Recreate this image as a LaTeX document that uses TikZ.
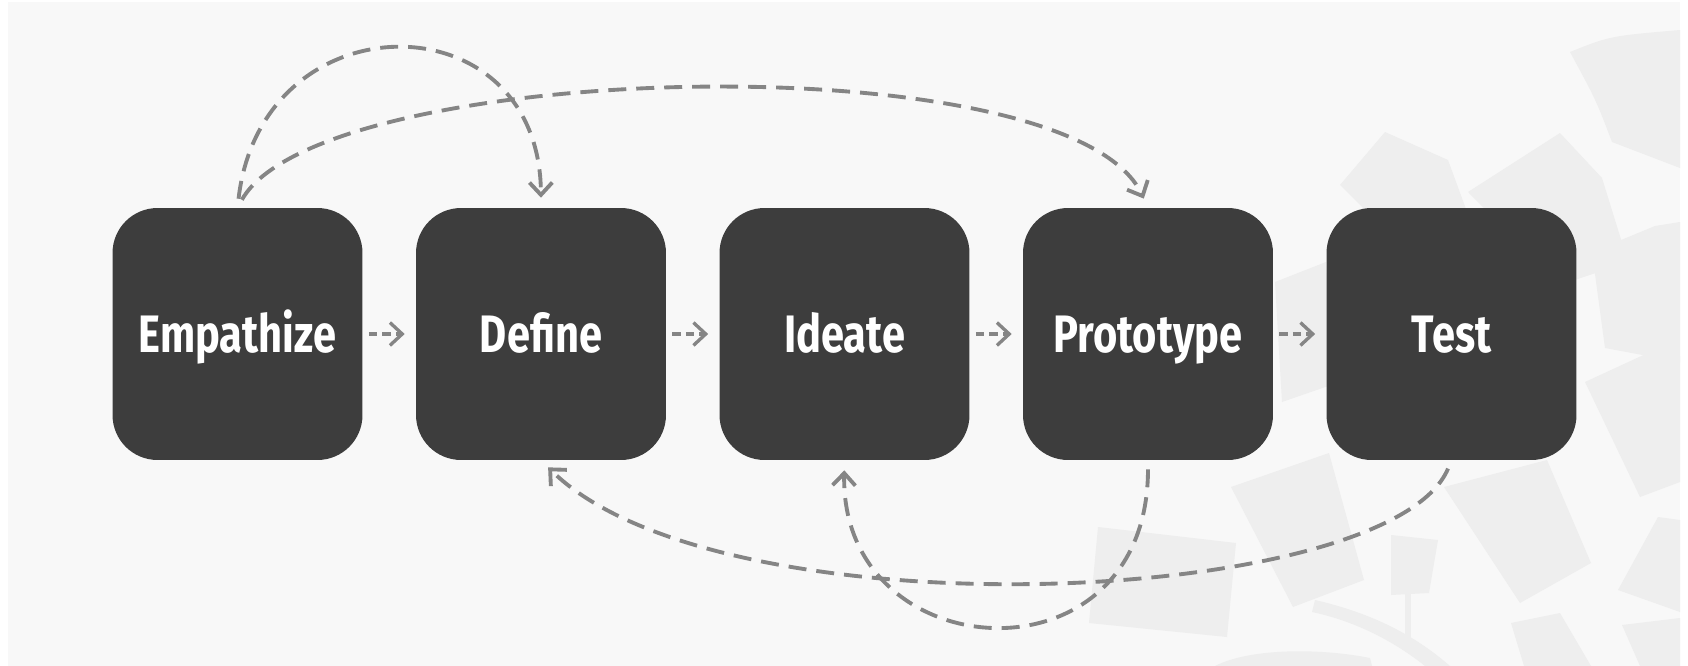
\documentclass[tikz,border=0pt]{standalone}
\usepackage{fontspec}
\newfontfamily\stagefont[FakeStretch=0.79]{Fira Sans}
\usetikzlibrary{arrows.meta}
\definecolor{stagegray}{HTML}{3D3D3D}
\definecolor{dashgray}{HTML}{858585}
\definecolor{paper}{HTML}{F8F8F8}
\definecolor{petalgray}{HTML}{EEEEEE}
\tikzset{
    stage/.style={
        fill=stagegray,
        text=white,
        rounded corners=0.9cm,
        minimum width=5cm,
        minimum height=5.04cm,
        inner sep=0pt,
        text height=20.5pt,
        text depth=0pt,
        font=\stagefont\bfseries\fontsize{30}{31}\selectfont
    },
    link/.style={
        dashgray,
        line width=2.2pt,
        dash pattern=on 0.36cm off 0.2cm,
        -{Straight Barb[length=7pt, width=13pt]}
    },
    nextarrow/.style={
        link,
        line width=1.9pt,
        dash pattern=on 0.17cm off 0.1cm,
        shorten <=0.12cm,
        shorten >=0.22cm
    },
    feedback/.style={
        link,
        shorten <=0.18cm,
        shorten >=0.2cm
    },
    petal/.style={
        fill=petalgray
    }
}

\begin{document}
\begin{tikzpicture}[x=0.02cm, y=-0.02cm]
    \useasboundingbox (0,0) rectangle (1688,666);
    \fill [white] (0,0) rectangle (1688,666);
    \fill [paper] (8,2) rectangle (1680,666);

    % faint rosette in the background
    \fill [petal] (1570,52) .. controls (1610,36) .. (1680,30) -- (1680,168) -- (1612,142) .. controls (1596,100) .. (1570,52) -- cycle;
    \fill [petal] (1340,185) -- (1385,132) -- (1448,160) -- (1470,220) -- (1400,245) -- cycle;
    \fill [petal] (1468,192) -- (1560,133) -- (1602,178) -- (1628,262) -- (1560,285) -- cycle;
    \fill [petal] (1592,252) -- (1655,226) -- (1680,222) -- (1680,362) -- (1605,348) -- cycle;
    \fill [petal] (1585,382) -- (1650,352) -- (1680,356) -- (1680,482) -- (1640,497) -- cycle;
    \fill [petal] (1275,282) -- (1326,262) -- (1334,384) -- (1282,402) -- cycle;
    \fill [petal] (1098,527) -- (1236,543) -- (1227,637) -- (1089,623) -- cycle;
    \fill [petal] (1231,487) -- (1329,453) -- (1364,580) -- (1293,607) -- cycle;
    \fill [petal] (1391,535) -- (1438,540) -- (1429,593) -- (1391,595) -- cycle;
    \fill [petal] (1405,590) rectangle (1411,640);
    \fill [petal] (1444,487) -- (1547,460) -- (1591,563) -- (1520,603) -- cycle;
    \fill [petal] (1618,590) -- (1658,517) -- (1680,520) -- (1680,612) -- cycle;
    \fill [petal] (1511,623) -- (1560,613) -- (1591,666) -- (1524,666) -- cycle;
    \fill [petal] (1622,625) -- (1680,618) -- (1680,666) -- (1640,666) -- cycle;
    \fill [petal] (1215,666) .. controls (1250,648) and (1320,648) .. (1370,658) -- (1372,666) -- cycle;
    \fill [petal] (1315,600) .. controls (1380,615) and (1420,640) .. (1450,666) -- (1425,666) .. controls (1390,638) and (1350,620) .. (1312,612) -- cycle;

    \foreach \name/\word [count=\i from 0] in {empathize/Empathize, define/Define, ideate/Ideate, prototype/Prototype, test/Test} {
        \node [stage] (\name) at ({237.5 + \i * 303.5}, 334) {\word};
    }
    \foreach \from/\to in {empathize/define, define/ideate, ideate/prototype, prototype/test} {
        \draw [nextarrow] (\from) -- (\to);
    }

    % loops back and forth
    \draw [feedback] (empathize.north) .. controls (262,-3) and (540,-3) .. (define.north);
    \draw [feedback] (empathize.north) .. controls (320,60) and (1070,40) .. (prototype.north);
    \draw [feedback] (test.south) .. controls (1390,607) and (720,637) .. (define.south);
    \draw [feedback] (prototype.south) .. controls (1148,690) and (840,670) .. (ideate.south);
\end{tikzpicture}
\end{document}
